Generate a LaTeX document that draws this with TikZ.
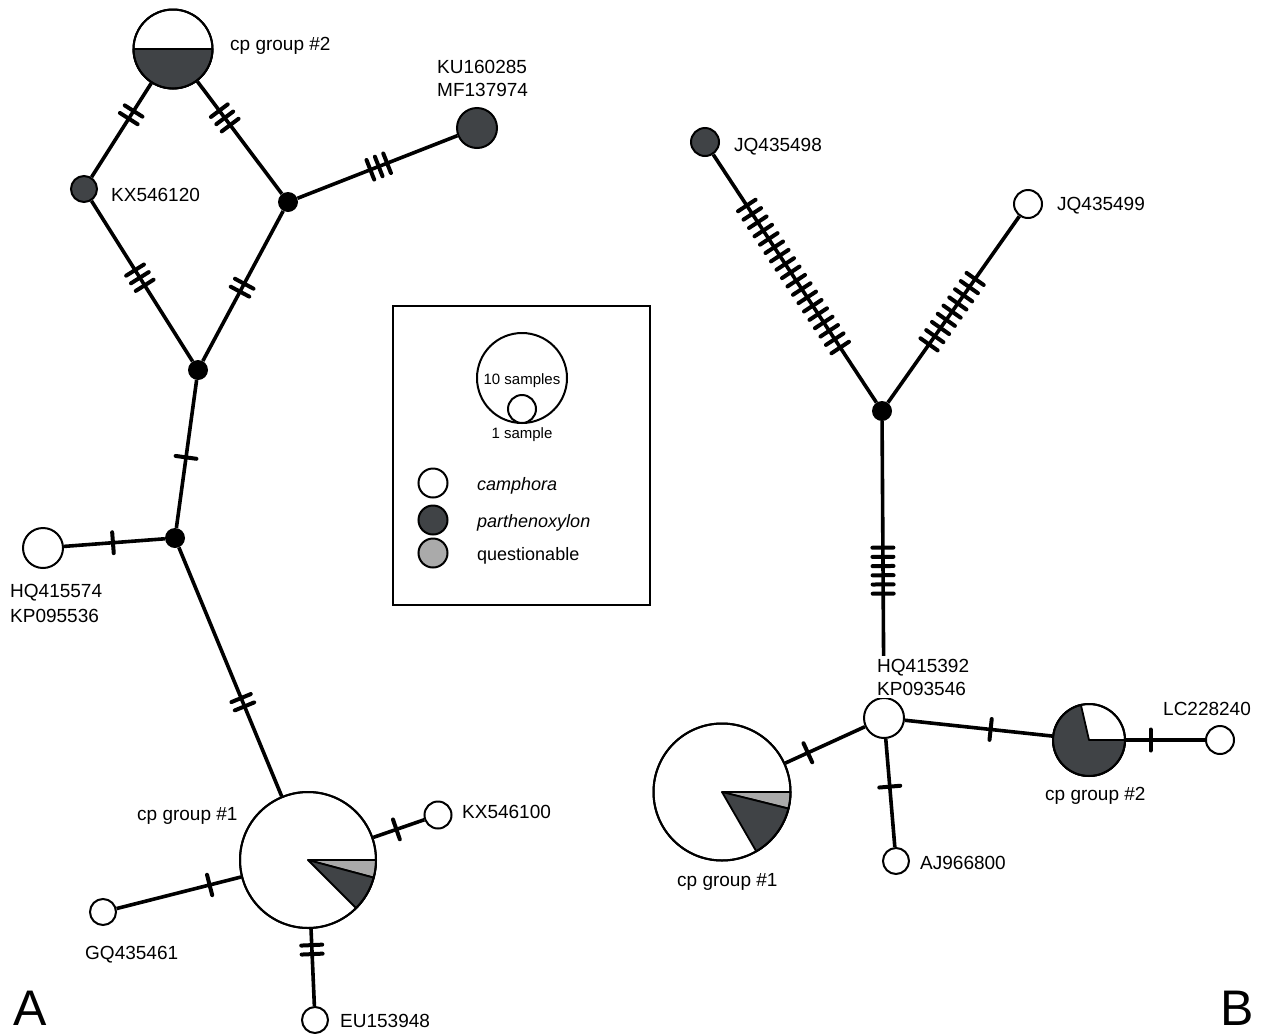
\documentclass[tikz,border=0pt]{standalone}
\usepackage{fontspec}
\setmainfont{Liberation Sans}
\usetikzlibrary{calc}
\definecolor{dk}{RGB}{64,67,70}
\definecolor{lg}{RGB}{170,170,170}
% #1 from, #2 to, #3 fraction of centre, #4 count, #5 gap
\newcommand\hticks[5]{%
  \foreach \k in {1,...,#4}{%
    \pgfmathsetmacro\dd{(\k-(#4+1)/2)*#5}%
    \coordinate (tc) at ($(#1)!#3!(#2)$);%
    \coordinate (tk) at ($(tc)!\dd pt!(#2)$);%
    \draw[tickmark] ($(tk)!10.5pt!90:(#2)$) -- ($(tk)!-10.5pt!90:(#2)$);%
  }}
\begin{document}
\begin{tikzpicture}[x=1pt,y=-1pt,
  wnode/.style={circle,draw,line width=2pt,fill=white,inner sep=0pt},
  dnode/.style={circle,draw,line width=2pt,fill=dk,inner sep=0pt},
  gnode/.style={circle,draw,line width=2pt,fill=lg,inner sep=0pt},
  jn/.style={circle,fill=black,inner sep=0pt,minimum size=20pt},
  edge/.style={line width=3.6pt},
  tickmark/.style={line width=4pt,line cap=round},
  slice/.style={line width=1.8pt,line join=round},
  lab/.style={inner sep=0pt,font=\fontsize{19}{22}\selectfont},
  leg/.style={inner sep=0pt,font=\fontsize{18}{21}\selectfont},
  small/.style={inner sep=0pt,font=\fontsize{15}{17}\selectfont}]
\useasboundingbox[fill=white] (0,0) rectangle (1262,1034);

% ---------- Panel A nodes ----------
\node[wnode,minimum size=79pt] (cpA2) at (173,49) {};
\filldraw[fill=dk,slice] (cpA2.center) -- ++(180:39.5pt) arc[start angle=180,end angle=360,radius=39.5pt] -- cycle;
\draw[line width=2pt] (cpA2.center) circle[radius=39.5pt];
\node[dnode,minimum size=26pt] (kx120) at (84,189) {};
\node[jn] (jt) at (288,202) {};
\node[dnode,minimum size=40pt] (ku) at (477,128) {};
\node[jn] (jb) at (198,370) {};
\node[jn] (jm) at (175,538) {};
\node[wnode,minimum size=40pt] (hq74) at (43,548) {};
\node[wnode,minimum size=136pt] (cpA1) at (308,860) {};
\filldraw[fill=lg,slice] (cpA1.center) -- ++(0:68pt) arc[start angle=0,end angle=-15,radius=68pt] -- cycle;
\filldraw[fill=dk,slice] (cpA1.center) -- ++(-15:68pt) arc[start angle=-15,end angle=-45,radius=68pt] -- cycle;
\draw[line width=2pt] (cpA1.center) circle[radius=68pt];
\node[wnode,minimum size=27pt] (kx100) at (438,815) {};
\node[wnode,minimum size=26pt] (gq) at (103,912) {};
\node[wnode,minimum size=26pt] (eu) at (315,1020) {};

% ---------- Panel A edges ----------
\draw[edge] (kx120) -- (cpA2);   \hticks{kx120}{cpA2}{0.53}{2}{9}
\draw[edge] (cpA2) -- (jt);      \hticks{cpA2}{jt}{0.45}{3}{9}
\draw[edge] (jt) -- (ku);        \hticks{jt}{ku}{0.48}{3}{9}
\draw[edge] (kx120) -- (jb);     \hticks{kx120}{jb}{0.49}{3}{9}
\draw[edge] (jt) -- (jb);        \hticks{jt}{jb}{0.51}{2}{9}
\draw[edge] (jb) -- (jm);        \hticks{jb}{jm}{0.52}{1}{9}
\draw[edge] (jm) -- (hq74);      \hticks{jm}{hq74}{0.47}{1}{9}
\draw[edge] (jm) -- (cpA1);      \hticks{jm}{cpA1}{0.51}{2}{9}
\draw[edge] (cpA1) -- (kx100);   \hticks{cpA1}{kx100}{0.68}{1}{9}
\draw[edge] (cpA1) -- (gq);      \hticks{cpA1}{gq}{0.48}{1}{9}
\draw[edge] (cpA1) -- (eu);      \hticks{cpA1}{eu}{0.56}{2}{9}

% ---------- Panel A labels ----------
\node[lab,anchor=base west] (tcpA2) at (230,50) {cp group \#2};
\node[lab,anchor=base west] (tkx120) at (111,201) {KX546120};
\node[lab,anchor=base west] (tku1) at (437,73) {KU160285};
\node[lab,anchor=base west] (tku2) at (437,96) {MF137974};
\node[lab,anchor=base west] (thq1) at (10,597) {HQ415574};
\node[lab,anchor=base west] (thq2) at (10,622) {KP095536};
\node[lab,anchor=base west] (tcpA1) at (137,820) {cp group \#1};
\node[lab,anchor=base west] (tkx100) at (462,818) {KX546100};
\node[lab,anchor=base west] (tgq) at (85,959) {GQ435461};
\node[lab,anchor=base west] (teu) at (340,1027) {EU153948};
\node[inner sep=0pt,anchor=base west,font=\fontsize{50}{54}\selectfont] (pA) at (13,1025) {A};

% ---------- Legend ----------
\node[draw,line width=1.8pt,minimum width=257pt,minimum height=299pt,inner sep=0pt] (legend) at (521.5,455.5) {};
\node[wnode,minimum size=90pt] (s10) at (522,378) {};
\node[wnode,minimum size=28pt] (s1) at (522,409) {};
\node[small,anchor=base] (t10) at (522,384) {10 samples};
\node[small,anchor=base] (t1) at (522,438) {1 sample};
\node[wnode,minimum size=29pt] (lw) at (433,483) {};
\node[dnode,minimum size=29pt] (ld) at (433,520) {};
\node[gnode,minimum size=29pt] (lgq) at (433,553) {};
\node[leg,anchor=base west] (tlw) at (477,490) {\itshape camphora};
\node[leg,anchor=base west] (tld) at (477,527) {\itshape parthenoxylon};
\node[leg,anchor=base west] (tlg) at (477,560) {questionable};

% ---------- Panel B nodes ----------
\node[dnode,minimum size=28pt] (jq98) at (705,142) {};
\node[wnode,minimum size=28pt] (jq99) at (1028,204) {};
\node[jn] (jB) at (882,411) {};
\node[wnode,minimum size=40pt] (hq92) at (884,718) {};
\node[wnode,minimum size=137pt] (cpB1) at (722,792) {};
\filldraw[fill=lg,slice] (cpB1.center) -- ++(0:68.5pt) arc[start angle=0,end angle=-14,radius=68.5pt] -- cycle;
\filldraw[fill=dk,slice] (cpB1.center) -- ++(-14:68.5pt) arc[start angle=-14,end angle=-60,radius=68.5pt] -- cycle;
\draw[line width=2pt] (cpB1.center) circle[radius=68.5pt];
\node[wnode,minimum size=72pt] (cpB2) at (1089,740) {};
\filldraw[fill=dk,slice] (cpB2.center) -- ++(103:36pt) arc[start angle=103,end angle=360,radius=36pt] -- cycle;
\draw[line width=2pt] (cpB2.center) circle[radius=36pt];
\node[wnode,minimum size=28pt] (lc) at (1220,740) {};
\node[wnode,minimum size=26pt] (aj) at (896,861) {};

% ---------- Panel B edges ----------
\draw[edge] (jq98) -- (jB);   \hticks{jq98}{jB}{0.5}{18}{10}
\draw[edge] (jB) -- (jq99);   \hticks{jB}{jq99}{0.48}{9}{10}
\draw[edge] (jB) -- (hq92);   \hticks{jB}{hq92}{0.52}{6}{9.2}
\draw[edge] (hq92) -- (cpB1); \hticks{hq92}{cpB1}{0.47}{1}{9}
\draw[edge] (hq92) -- (cpB2); \hticks{hq92}{cpB2}{0.52}{1}{9}
\draw[edge] (cpB2) -- (lc);   \hticks{cpB2}{lc}{0.47}{1}{9}
\draw[edge] (hq92) -- (aj);   \hticks{hq92}{aj}{0.48}{1}{9}

% ---------- Panel B labels ----------
\node[lab,anchor=base west,fill=white,inner xsep=1pt,inner ysep=3pt,align=left] (thq3) at (876,695) {HQ415392\\[1pt]KP093546};
\node[lab,anchor=base west] (tjq98) at (734,151) {JQ435498};
\node[lab,anchor=base west] (tjq99) at (1057,210) {JQ435499};
\node[lab,anchor=base west] (tcpB1) at (677,886) {cp group \#1};
\node[lab,anchor=base west] (tlc) at (1163,715) {LC228240};
\node[lab,anchor=base west] (tcpB2) at (1045,800) {cp group \#2};
\node[lab,anchor=base west] (taj) at (920,869) {AJ966800};
\node[inner sep=0pt,anchor=base east,font=\fontsize{50}{54}\selectfont] (pB) at (1254,1025) {B};
\end{tikzpicture}
\end{document}
